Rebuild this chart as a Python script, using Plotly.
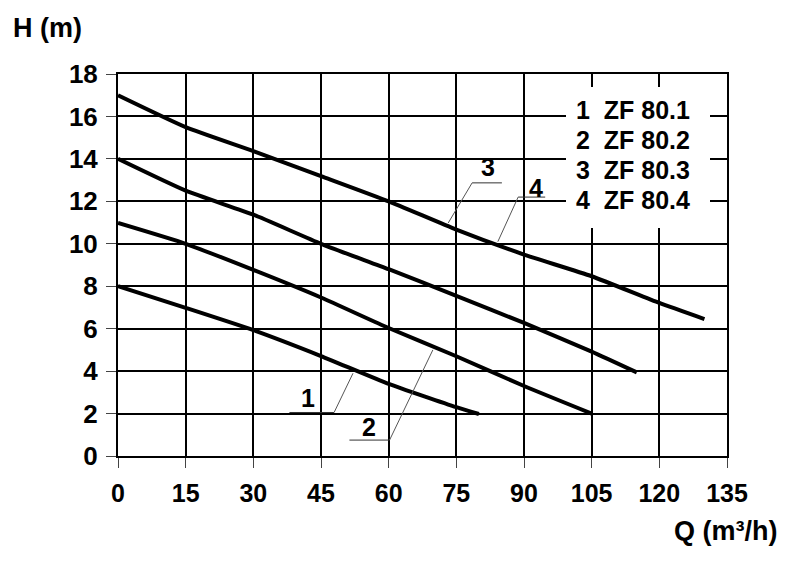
import plotly.graph_objects as go

# Data
q_1 = [0, 15, 30, 45, 60, 75, 80]
h_1 = [8.0, 6.98, 5.93, 4.71, 3.4, 2.3, 1.98]

q_2 = [0, 15, 30, 45, 60, 75, 90, 105]
h_2 = [10.98, 10.0, 8.77, 7.47, 6.03, 4.7, 3.3, 2.0]

q_3 = [0, 15, 30, 45, 60, 75, 90, 105, 115]
h_3 = [14.0, 12.5, 11.37, 10.0, 8.8, 7.55, 6.27, 4.92, 3.94]

q_4 = [0, 15, 30, 45, 60, 75, 90, 105, 120, 130]
h_4 = [17.0, 15.5, 14.37, 13.19, 12.0, 10.67, 9.49, 8.47, 7.21, 6.45]

legend_labels = ["1&nbsp;&nbsp;ZF 80.1", "2&nbsp;&nbsp;ZF 80.2", "3&nbsp;&nbsp;ZF 80.3", "4&nbsp;&nbsp;ZF 80.4"]
x_ticks = [0, 15, 30, 45, 60, 75, 90, 105, 120, 135]
y_ticks = [0, 2, 4, 6, 8, 10, 12, 14, 16, 18]

# curve labels: text, text pos, underline (x0, x1, y), pointer end (x, y)
curve_labels = ["1", "2", "3", "4"]
label_text_q = [42.1, 55.6, 82.0, 92.7]
label_text_h = [2.75, 1.35, 13.6, 12.65]
underline_q0 = [38.0, 51.3, 78.5, 88.7]
underline_q1 = [47.9, 60.2, 85.1, 94.7]
underline_h = [2.05, 0.75, 12.87, 12.2]
pointer_q = [52.1, 69.8, 73.2, 84.2]
pointer_h = [3.9, 5.0, 10.98, 10.1]

FONT = "Liberation Sans, Arial, sans-serif"
# page body has an 8px margin; plot area target: x 118..727, y 74..456
PW, PH = 609, 382
L0, T0 = 118, 74

fig = go.Figure()
for q, h in [(q_1, h_1), (q_2, h_2), (q_3, h_3), (q_4, h_4)]:
    fig.add_trace(go.Scatter(x=q, y=h, mode="lines",
                             line=dict(color="black", width=4, shape="spline", smoothing=0.5),
                             showlegend=False, hoverinfo="skip"))

# leader lines for curve numbers
for i in range(len(curve_labels)):
    knee = underline_q1[i] if i < 2 else underline_q0[i]
    fig.add_trace(go.Scatter(
        x=[underline_q0[i], underline_q1[i]], y=[underline_h[i], underline_h[i]], mode="lines",
        line=dict(color="#333333", width=1), showlegend=False, hoverinfo="skip"))
    fig.add_trace(go.Scatter(
        x=[knee, pointer_q[i]], y=[underline_h[i], pointer_h[i]], mode="lines",
        line=dict(color="#555555", width=1), showlegend=False, hoverinfo="skip"))
    fig.add_annotation(x=label_text_q[i], y=label_text_h[i], text="<b>" + curve_labels[i] + "</b>",
                       showarrow=False, font=dict(family=FONT, size=25, color="black"),
                       xanchor="center", yanchor="middle")

# legend box (white background covering grid)
fig.add_shape(type="rect", xref="paper", yref="paper",
              x0=(566 - L0) / PW, x1=(710 - L0) / PW,
              y0=(456 - 228) / PH, y1=(456 - 87) / PH,
              fillcolor="white", line=dict(width=0), layer="above")
legend_y = [110, 140, 170, 200]
for lab, py in zip(legend_labels, legend_y):
    fig.add_annotation(xref="paper", yref="paper", x=(692 - L0) / PW, y=(456 - py) / PH,
                       text="<b>" + lab + "</b>", showarrow=False, xanchor="right", yanchor="middle",
                       font=dict(family=FONT, size=25, color="black"))

fig.add_annotation(xref="paper", yref="paper", x=(11 - L0) / PW, y=(456 - 28) / PH,
                   text="<b>H (m)</b>", showarrow=False, xanchor="left", yanchor="middle",
                   font=dict(family=FONT, size=27, color="black"))
fig.add_annotation(xref="paper", yref="paper", x=(779 - L0) / PW, y=-(531 - 456) / PH,
                   text="<b>Q (m³/h)</b>", showarrow=False, xanchor="right", yanchor="middle",
                   font=dict(family=FONT, size=27, color="black"))

fig.update_xaxes(range=[0, 135], tickvals=x_ticks, ticktext=["<b>%d</b>" % v for v in x_ticks],
                 showgrid=True, gridcolor="black", gridwidth=2, zeroline=False,
                 showline=True, linecolor="black", linewidth=2, mirror=True,
                 ticks="outside", ticklen=10, tickwidth=1, tickcolor="#444",
                 ticklabelstandoff=4,
                 tickfont=dict(family=FONT, size=25, color="black"))
fig.update_yaxes(range=[0, 18], tickvals=y_ticks, ticktext=["<b>%d</b>" % v for v in y_ticks],
                 showgrid=True, gridcolor="black", gridwidth=2, zeroline=False,
                 showline=True, linecolor="black", linewidth=2, mirror=True,
                 ticks="outside", ticklen=10, tickwidth=1, tickcolor="#444",
                 ticklabelstandoff=3,
                 tickfont=dict(family=FONT, size=26, color="black"))

fig.update_layout(width=800, height=564, plot_bgcolor="white", paper_bgcolor="white",
                  margin=dict(l=L0 - 8, r=800 + 8 - (L0 + PW), t=T0 - 8, b=564 + 8 - (T0 + PH)),
                  showlegend=False)

fig.write_html("out.html")
